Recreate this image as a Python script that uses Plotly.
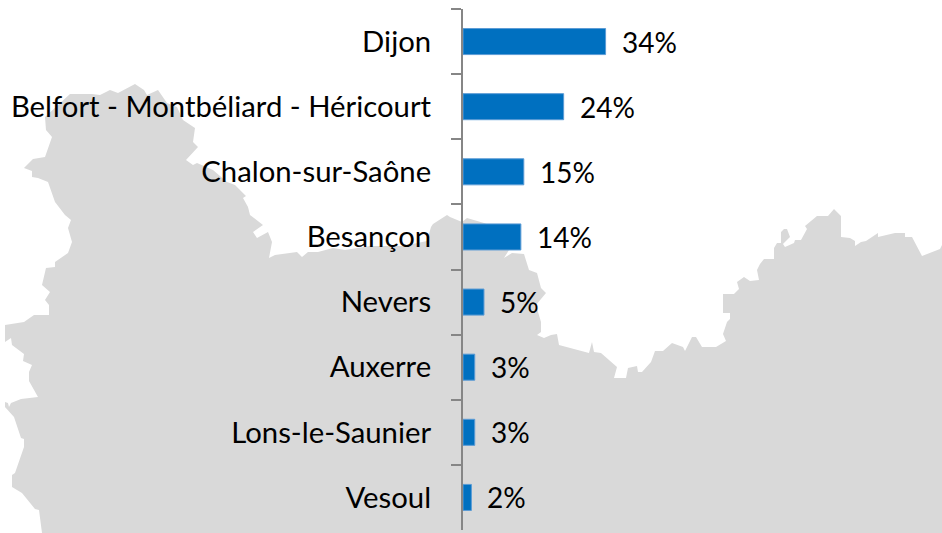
import plotly.graph_objects as go

categories = ["Dijon", "Belfort - Montbéliard - Héricourt", "Chalon-sur-Saône", "Besançon",
              "Nevers", "Auxerre", "Lons-le-Saunier", "Vesoul"]
values = [34, 24, 14.5, 13.8, 5, 2.8, 2.8, 2]
labels = ["34%", "24%", "15%", "14%", "5%", "3%", "3%", "2%"]

# Background map silhouette, in pixels of the 942x533 picture
map_outline = [
    (42,533),(39,510),(35,509),(22,493),(12,487),(12,475),(15,473),(24,447),(24,439),(21,438),(14,417),(5,407),(5,402),
    (8,403),(9,407),(11,403),(21,399),(38,397),(29,381),(29,372),(32,365),(23,361),(24,354),(12,345),(11,338),(5,342),
    (5,325),(24,322),(34,315),(49,315),(49,305),(45,300),(50,292),(42,285),(46,268),(55,267),(55,262),(68,253),(72,242),
    (68,228),(71,220),(65,215),(55,202),(48,182),(38,178),(32,177),(32,171),(24,168),(33,159),(45,157),(52,137),(46,130),
    (45,117),(70,94),(92,94),(100,95),(110,90),(118,93),(135,84),(144,90),(147,95),(158,90),(167,103),(177,107),(183,120),
    (195,128),(193,142),(198,147),(186,160),(193,165),(197,163),(213,170),(227,182),(235,185),(246,196),(243,198),(248,207),
    (250,215),(263,225),(253,232),(257,238),(268,232),(272,242),(269,258),(275,255),(297,252),(302,257),(308,252),(318,252),
    (333,248),(345,250),(370,246),(403,246),(427,241),(431,227),(433,224),(447,215),(450,217),(462,222),(467,218),
    (484,223),(515,235),(509,250),(504,258),(512,253),(524,254),(529,270),(537,273),(541,288),(546,293),(536,305),(541,322),
    (541,332),(537,335),(544,338),(551,335),(557,334),(559,345),(589,353),(592,342),(594,352),(601,353),(617,367),(614,378),
    (626,378),(628,368),(637,366),(638,372),(642,372),(651,362),(655,351),(663,351),(672,343),(683,347),(685,351),(692,337),
    (696,337),(702,347),(716,347),(726,341),(723,334),(727,322),(730,319),(730,313),(723,313),(723,294),(734,294),(739,289),
    (737,282),(744,277),(750,281),(759,280),(757,270),(760,264),(764,259),(774,259),(774,248),(777,243),(781,243),(781,232),
    (784,229),(787,229),(790,237),(783,244),(785,247),(794,243),(795,240),(801,240),(807,229),(805,226),(817,216),(828,216),
    (834,209),(841,216),(841,237),(850,238),(855,241),(855,246),(861,242),(866,241),(878,233),(878,237),(895,233),(905,233),
    (905,237),(912,237),(922,256),(940,249),(942,245),(942,533),
]

W, H = 942, 533
L, R, T, B = 463, 310, 9, 3
pw, ph = W - L - R, H - T - B
path = "M " + " L ".join(f"{(x-L)/pw:.5f},{(H-B-y)/ph:.5f}" for x, y in map_outline) + " Z"

fig = go.Figure(go.Bar(
    y=categories, x=values, orientation="h",
    marker=dict(color="#0070C0", line=dict(color="#5B9BD5", width=1)),
    hoverinfo="skip",
))

annotations = [
    dict(x=v, y=c, text=t, xref="x", yref="y", xanchor="left", yanchor="middle", showarrow=False, xshift=14,
         font=dict(family="Lato", size=28, color="#000000"))
    for c, v, t in zip(categories, values, labels)
]

fig.update_layout(
    width=W, height=H,
    margin=dict(l=L, r=R, t=T, b=B, pad=0),
    paper_bgcolor="#FFFFFF", plot_bgcolor="rgba(0,0,0,0)",
    showlegend=False, bargap=0.6,
    font=dict(family="Lato", size=29.3, color="#000000"),
    annotations=annotations,
    shapes=[dict(type="path", path=path, xref="paper", yref="paper", layer="below",
                 fillcolor="#D9D9D9", line=dict(width=0))],
    xaxis=dict(visible=False, range=[0, 40.3], fixedrange=True),
    yaxis=dict(autorange="reversed", type="category", showgrid=False, zeroline=False,
               showline=True, linecolor="#868686", linewidth=2,
               ticks="outside", ticklen=10, tickwidth=2, tickcolor="#868686", tickson="boundaries",
               ticklabelstandoff=24, tickfont=dict(family="Lato", size=29.3, color="#000000")),
)
fig.write_html("out.html", config={"displayModeBar": False},
               post_script="document.body.style.margin='0';document.documentElement.style.overflow='hidden';")
